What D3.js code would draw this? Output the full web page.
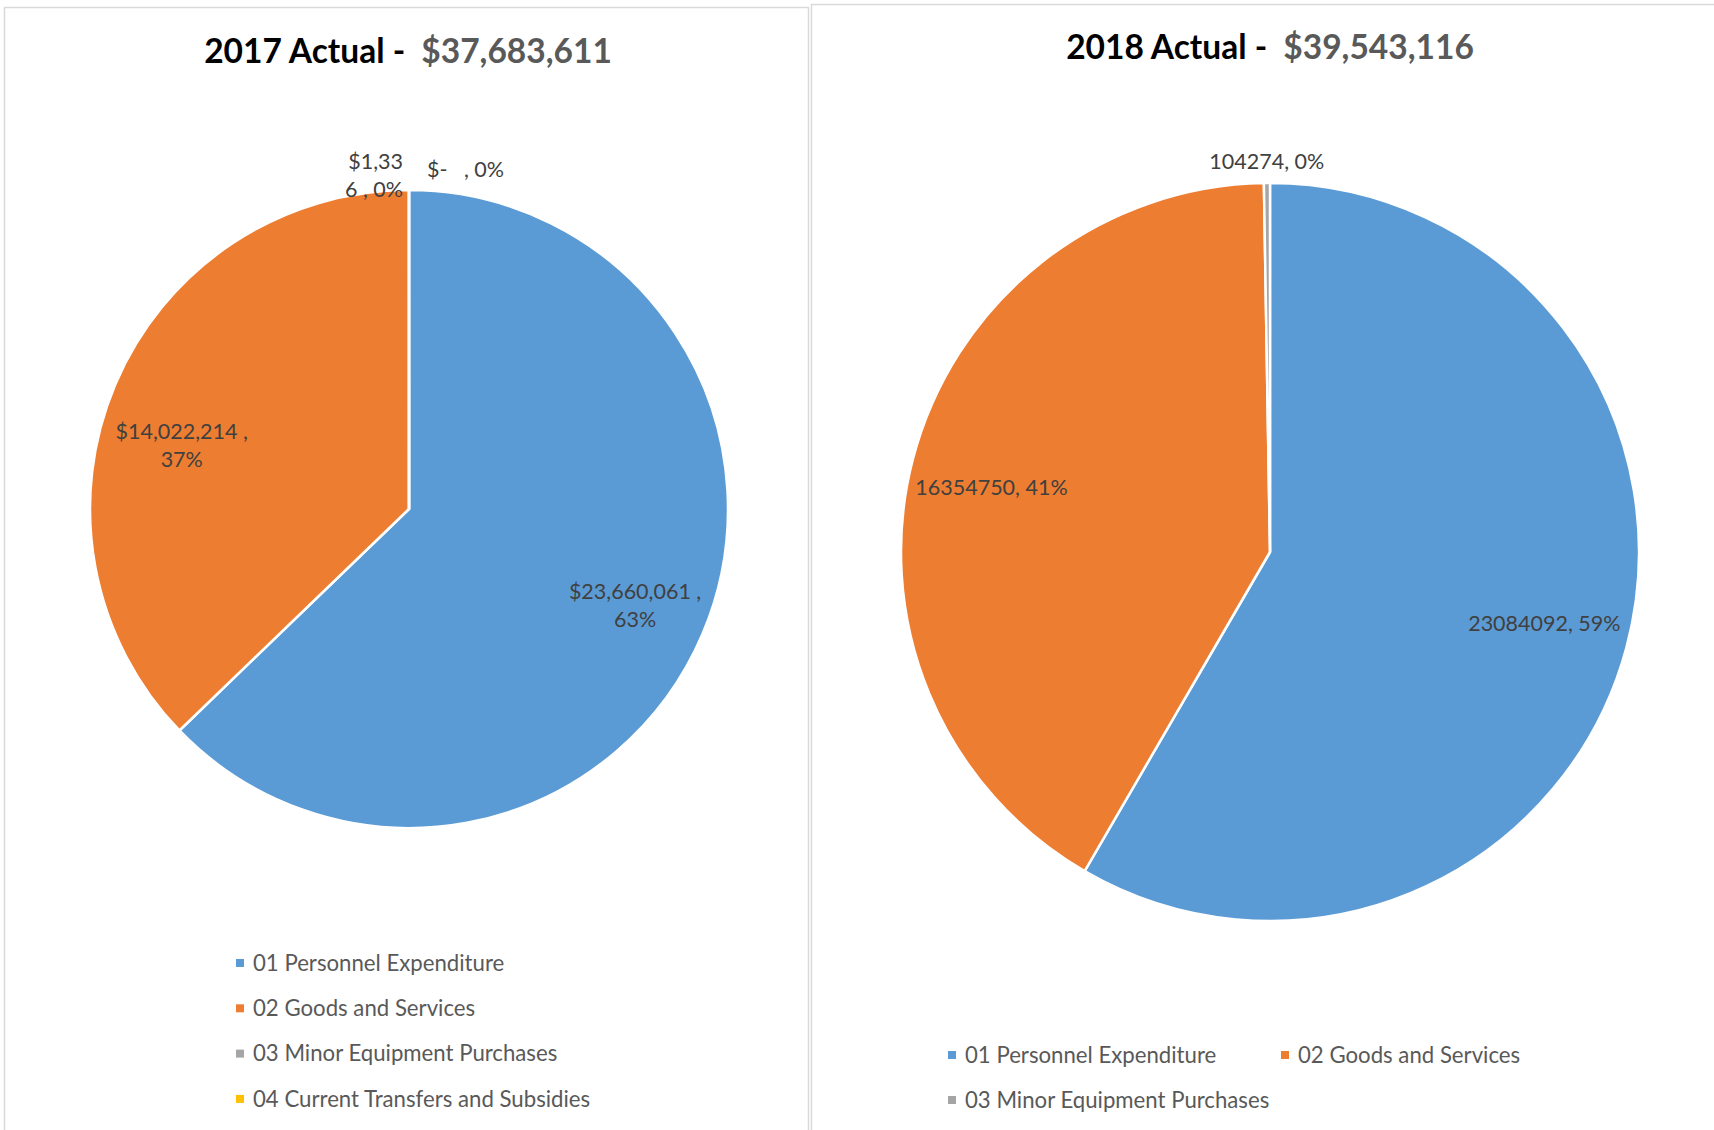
<!DOCTYPE html>
<html>
<head>
<meta charset="utf-8">
<script src="https://cdn.jsdelivr.net/npm/d3@7/dist/d3.min.js"></script>
<style>
  html, body { margin: 0; padding: 0; background: #fff; }
  svg { display: block; font-family: Lato, "Open Sans", sans-serif; }
  text { white-space: pre; }
</style>
</head>
<body>
<svg id="chart" width="1714" height="1130"></svg>
<script>
// ---------------- DATA ----------------
const categories2017 = ["01 Personnel Expenditure", "02 Goods and Services", "03 Minor Equipment Purchases", "04 Current Transfers and Subsidies"];
const values2017 = [23660061, 14022214, 1336, 0];
const categories2018 = ["01 Personnel Expenditure", "02 Goods and Services", "03 Minor Equipment Purchases"];
const values2018 = [23084092, 16354750, 104274];
const titleYears = ["2017 Actual - ", "2018 Actual - "];
const sliceColors = ["#5B9BD5", "#ED7D31", "#A5A5A5", "#FFC000"];

// ---------------- HELPERS ----------------
const svg = d3.select("#chart");
const fmtComma = d3.format(",");

// percentages rounded so they add up to 100 (largest remainder), as the spreadsheet does
function roundedPercents(values) {
  const total = d3.sum(values);
  const raw = values.map(v => v / total * 100);
  const fl = raw.map(Math.floor);
  let rest = 100 - d3.sum(fl);
  const order = raw.map((r, i) => i).sort((a, b) => (raw[b] - fl[b]) - (raw[a] - fl[a]));
  for (let k = 0; k < rest; k++) fl[order[k]] += 1;
  return fl;
}

function label2017(v, p) {
  const money = v === 0 ? "$-   " : "$" + fmtComma(v) + " ";
  return money + ", " + p + "%";
}
function label2018(v, p) {
  return v + ", " + p + "%";
}

function drawPanel(opts) {
  const g = svg.append("g");
  g.append("rect")
    .attr("x", opts.frame[0]).attr("y", opts.frame[1])
    .attr("width", opts.frame[2]).attr("height", opts.frame[3])
    .attr("fill", "#fff").attr("stroke", "#D9D9D9").attr("stroke-width", 1.5);

  const total = d3.sum(opts.values);
  const pcts = roundedPercents(opts.values);
  const t = g.append("text")
    .attr("x", opts.titlePos[0]).attr("y", opts.titlePos[1])
    .attr("text-anchor", "middle")
    .attr("font-size", 33.5).attr("font-weight", 700);
  t.append("tspan").attr("fill", "#000").text(opts.title);
  t.append("tspan").attr("fill", "#595959").attr("dx", 8).text("$" + fmtComma(total));

  const pie = d3.pie().sort(null).value(d => d)(opts.values);
  const arc = d3.arc().innerRadius(0).outerRadius(opts.r);
  const pg = g.append("g").attr("transform", `translate(${opts.cx},${opts.cy})`);
  pg.selectAll("path.slice").data(pie).join("path")
    .attr("class", "slice")
    .attr("d", arc)
    .attr("fill", (d, i) => sliceColors[i])
    .attr("stroke", "#fff").attr("stroke-width", 2.5).attr("stroke-linejoin", "round");

  pie.forEach((d, i) => {
    const txt = opts.labelFn(d.value, pcts[i]);
    const lay = opts.labelLayout[i];
    const mid = (d.startAngle + d.endAngle) / 2;
    const rr = lay.outside ? opts.r + lay.k : opts.r * lay.k;
    const x = Math.sin(mid) * rr + (lay.dx || 0);
    const y = -Math.cos(mid) * rr + (lay.dy || 0);
    const lines = lay.split ? lay.split(txt) : [txt];
    const te = pg.append("text")
      .attr("text-anchor", lay.anchor || "middle")
      .attr("font-size", opts.labelSize)
      .attr("fill", "#404040");
    const lh = opts.lineHeight;
    const y0 = y - (lines.length - 1) * lh / 2;
    lines.forEach((ln, j) => {
      te.append("tspan").attr("x", x).attr("y", y0 + j * lh).attr("dy", "0.35em").text(ln);
    });
  });

  const lg = g.append("g");
  opts.categories.forEach((c, i) => {
    const [lx, ly] = opts.legendPos(i);
    lg.append("rect").attr("x", lx - 4).attr("y", ly - 4).attr("width", 8).attr("height", 8)
      .attr("fill", sliceColors[i]);
    lg.append("text").attr("x", lx + 13).attr("y", ly).attr("dy", "0.35em")
      .attr("font-size", opts.legendSize).attr("fill", "#595959").text(c);
  });
}

const splitComma = s => { const k = s.lastIndexOf(","); return [s.slice(0, k + 1), s.slice(k + 2)]; };

drawPanel({
  frame: [4.5, 7.5, 804, 1200],
  title: titleYears[0], titlePos: [408, 63],
  values: values2017, categories: categories2017,
  cx: 409, cy: 509, r: 319,
  labelFn: label2017, labelSize: 21.5, lineHeight: 28,
  labelLayout: [
    { k: 0.77, split: splitComma },
    { k: 0.74, split: splitComma, dx: -10, dy: 29 },
    { outside: true, k: 15, anchor: "end", dx: -6, split: s => [s.slice(0, 5), s.slice(5)] },
    { outside: true, k: 21, anchor: "start", dx: 18 }
  ],
  legendSize: 22.2,
  legendPos: i => [240, 963 + i * 45.3]
});

drawPanel({
  frame: [811.5, 4.5, 1000, 1200],
  title: titleYears[1], titlePos: [1270, 59],
  values: values2018, categories: categories2018,
  cx: 1270, cy: 552, r: 369,
  labelFn: label2018, labelSize: 21.5, lineHeight: 28,
  labelLayout: [
    { k: 0.77, dy: -2 },
    { k: 0.78, dy: 8 },
    { outside: true, k: 22 }
  ],
  legendSize: 22.2,
  legendPos: i => [i === 1 ? 1285 : 952, 1055 + Math.floor(i / 2) * 45]
});
</script>
</body>
</html>
